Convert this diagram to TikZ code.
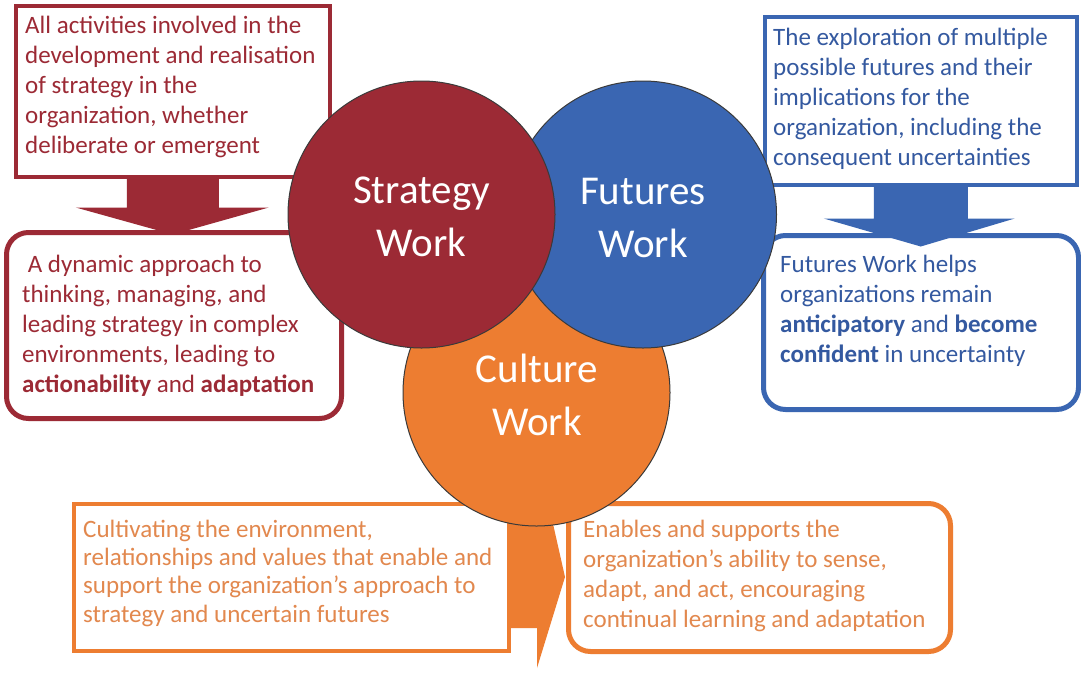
\documentclass[tikz,border=0pt]{standalone}
\usepackage{fontspec}
\setmainfont{Carlito}
\usetikzlibrary{calc}
\definecolor{sred}{HTML}{9C2A35}
\definecolor{fblue}{HTML}{3A66B2}
\definecolor{fbluetext}{HTML}{3459A0}
\definecolor{corange}{HTML}{ED7D31}
\definecolor{corangetext}{HTML}{E2884E}
\definecolor{outl}{HTML}{3A3A3A}
\begin{document}
\begin{tikzpicture}[x=1pt,y=-1pt,
  sqbox/.style={draw, line width=3.5pt, fill=white, rectangle, inner sep=0pt, anchor=north west},
  rndbox/.style={draw, line width=5pt, fill=white, rectangle, rounded corners=22pt, inner sep=0pt, anchor=north west},
  boxtext/.style={anchor=north west, inner sep=0pt, align=left, font=\fontsize{25}{30}\selectfont},
  circ/.style={circle, draw=outl, line width=1pt, minimum size=267pt, inner sep=0pt},
  circtext/.style={anchor=north, inner sep=0pt, align=center, text=white, font=\fontsize{41}{53}\selectfont},
]
\useasboundingbox (0,0) rectangle (1081,678);
\fill[white] (0,0) rectangle (1081,678);

% ---- boxes
\node[sqbox, draw=sred, minimum width=314pt, minimum height=171pt] (rtop) at (14,4) {};
\node[rndbox, draw=sred, minimum width=335pt, minimum height=186pt] (rbot) at (4,230) {};
\node[sqbox, draw=fblue, minimum width=312pt, minimum height=168pt] (btop) at (763,15) {};
\node[rndbox, draw=fblue, minimum width=315pt, minimum height=174pt] (bbot) at (761,233) {};
\node[sqbox, draw=corange, minimum width=435pt, minimum height=147pt] (oleft) at (72,502) {};
\node[rndbox, draw=corange, minimum width=382pt, minimum height=148pt] (oright) at (566,501) {};

% ---- block arrows
\fill[sred] ($(rtop.south)+(-46,0)$) -- ($(rtop.south)+(46,0)$) -- ($(rtop.south)+(46,29)$)
  -- ($(rtop.south)+(96,29)$) -- ($(rtop.south)+(0,56)$) -- ($(rtop.south)+(-97,29)$)
  -- ($(rtop.south)+(-46,29)$) -- cycle;
\fill[fblue] ($(btop.south)+(-47,0)$) -- ($(btop.south)+(47,0)$) -- ($(btop.south)+(47,32)$)
  -- ($(btop.south)+(94,32)$) -- ($(btop.south)+(0,60)$) -- ($(btop.south)+(-97,32)$)
  -- ($(btop.south)+(-47,32)$) -- cycle;
\fill[corange] (510,515) -- (551,515) -- (565,577) -- (537,668) -- (537,628) -- (510,628) -- cycle;

% ---- box texts
\node[boxtext, text=sred] (rtoptxt) at (25,13) {\rule{0pt}{20pt}All activities involved in the\\development and realisation\\of strategy in the\\organization, whether\\deliberate or emergent};
\node[boxtext, text=sred] (rbottxt) at (22,252) {\rule{0pt}{20pt}\ A dynamic approach to\\thinking, managing, and\\leading strategy in complex\\environments, leading to\\\textbf{actionability} and \textbf{adaptation}};
\node[boxtext, text=fbluetext] (btoptxt) at (773,25) {\rule{0pt}{20pt}The exploration of multiple\\possible futures and their\\implications for the\\organization, including the\\consequent uncertainties};
\node[boxtext, text=fbluetext] (bbottxt) at (780,252) {\rule{0pt}{20pt}Futures Work helps\\organizations remain\\\textbf{anticipatory} and \textbf{become}\\\textbf{confident} in uncertainty};
\node[boxtext, text=corangetext, font=\fontsize{25}{28.3}\selectfont] (olefttxt) at (83,517) {\rule{0pt}{20pt}Cultivating the environment,\\relationships and values that enable and\\support the organization’s approach to\\strategy and uncertain futures};
\node[boxtext, text=corangetext] (orighttxt) at (583,517) {\rule{0pt}{20pt}Enables and supports the\\organization’s ability to sense,\\adapt, and act, encouraging\\continual learning and adaptation};

% ---- circles
\node[circ, fill=corange] (culture) at (536.5,392.5) {};
\node[circ, fill=fblue] (futures) at (643,214.5) {};
\node[circ, fill=sred] (strategy) at (421.5,214.5) {};

\node[circtext] (strategytxt) at (421.5,169) {\rule{0pt}{34pt}Strategy\\Work};
\node[circtext] (futurestxt) at (643,170) {\rule{0pt}{34pt}Futures\\Work};
\node[circtext] (culturetxt) at (537,348) {\rule{0pt}{34pt}Culture\\Work};
\end{tikzpicture}
\end{document}
